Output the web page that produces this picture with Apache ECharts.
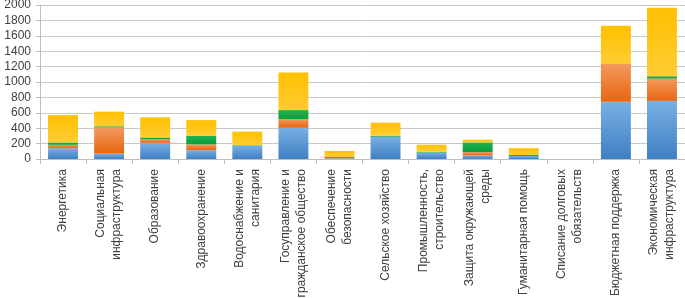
<!DOCTYPE html>
<html>
<head>
<meta charset="utf-8">
<script src="https://cdn.jsdelivr.net/npm/echarts@6/dist/echarts.min.js"></script>
<style>
  html, body { margin: 0; padding: 0; background: #fff; }
  #chart { width: 685px; height: 298px; }
</style>
</head>
<body>
<div id="chart"></div>
<script>
// categories, bottom-to-top stack: blue, orange, green, gold
var categories = [
    'Энергетика',
    'Социальная\nинфраструктура',
    'Образование',
    'Здравоохранение',
    'Водоснабжение и\nсанитария',
    'Госуправление и\nгражданское общество',
    'Обеспечение\nбезопасности',
    'Сельское хозяйство',
    'Промышленность,\nстроительство',
    'Защита окружающей\nсреды',
    'Гуманитарная помощь',
    'Списание долговых\nобязательств',
    'Бюджетная поддержка',
    'Экономическая\nинфраструктура'
];
var blueVals   = [140, 70, 210, 115, 175, 405, 5, 290, 85, 45, 40, 0, 745, 755];
var orangeVals = [45, 340, 50, 75, 0, 115, 5, 0, 0, 45, 0, 0, 490, 290];
var greenVals  = [30, 15, 20, 110, 5, 115, 15, 12, 10, 125, 12, 0, 0, 30];
var goldVals   = [355, 190, 260, 205, 175, 490, 80, 170, 90, 35, 88, 0, 495, 890];

var yTicks = { min: 0, max: 2000, interval: 200 };

function grad(top, bottom) {
    return new echarts.graphic.LinearGradient(0, 0, 0, 1, [
        { offset: 0, color: top },
        { offset: 1, color: bottom }
    ]);
}

function makeSeries(name, data, top, bottom) {
    return {
        name: name,
        type: 'bar',
        stack: 'total',
        barCategoryGap: '35%',
        data: data,
        itemStyle: { color: grad(top, bottom) }
    };
}

var chart = echarts.init(document.getElementById('chart'));
chart.setOption({
    animation: false,
    textStyle: { fontFamily: 'Liberation Sans' },
    grid: { left: 40, right: 0, top: 5, bottom: 139, outerBoundsMode: 'none', containLabel: false },
    xAxis: {
        type: 'category',
        data: categories,
        axisLine: { lineStyle: { color: '#bfbfbf' } },
        axisTick: { show: true, length: 5, lineStyle: { color: '#bfbfbf' } },
        axisLabel: {
            rotate: 90,
            interval: 0,
            margin: 10,
            fontSize: 12,
            lineHeight: 16,
            color: '#404040'
        }
    },
    yAxis: {
        type: 'value',
        min: yTicks.min,
        max: yTicks.max,
        interval: yTicks.interval,
        axisLine: { show: true, lineStyle: { color: '#bfbfbf' } },
        axisTick: { show: true, length: 4, lineStyle: { color: '#bfbfbf' } },
        axisLabel: {
            fontSize: 12,
            margin: 9,
            color: '#404040',
            formatter: function (v) { return String(v); }
        },
        splitLine: { lineStyle: { color: '#c8c8c8' } }
    },
    series: [
        makeSeries('blue', blueVals, '#78b0e4', '#3f7fc3'),
        makeSeries('orange', orangeVals, '#f29a5e', '#e8650f'),
        makeSeries('green', greenVals, '#1fb451', '#0a9c3c'),
        makeSeries('gold', goldVals, '#ffc000', '#ffcc33')
    ]
});
</script>
</body>
</html>
